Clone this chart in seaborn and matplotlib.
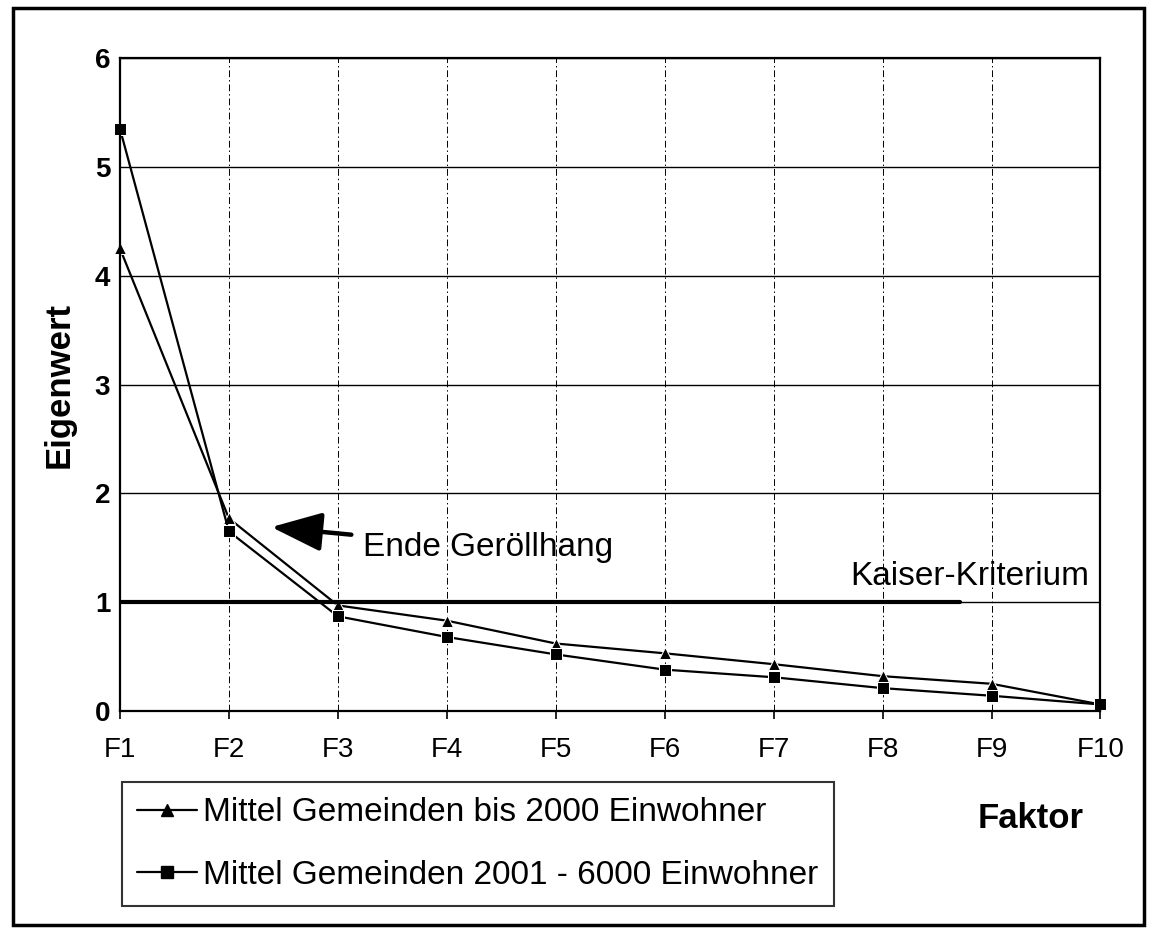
import pandas as pd
import seaborn as sns
import matplotlib.pyplot as plt
from matplotlib.patches import Rectangle
from matplotlib.lines import Line2D

# --- DATA ---
faktoren = ['F1', 'F2', 'F3', 'F4', 'F5', 'F6', 'F7', 'F8', 'F9', 'F10']
bis_2000 = [4.25, 1.77, 0.97, 0.83, 0.62, 0.53, 0.43, 0.32, 0.25, 0.06]
bis_6000 = [5.35, 1.65, 0.87, 0.68, 0.52, 0.38, 0.31, 0.21, 0.14, 0.06]
serien = ['Mittel Gemeinden bis 2000 Einwohner', 'Mittel Gemeinden 2001 - 6000 Einwohner']
kaiser = 1.0
# ------------

sns.set_style('white', {'text.color': 'black', 'axes.labelcolor': 'black',
                        'xtick.color': 'black', 'ytick.color': 'black'})
plt.rcParams['font.family'] = ['Liberation Sans', 'DejaVu Sans']

df = pd.DataFrame({
    'Faktor': faktoren * 2,
    'Eigenwert': bis_2000 + bis_6000,
    'Serie': [serien[0]] * len(faktoren) + [serien[1]] * len(faktoren),
})

fig = plt.figure(figsize=(11.59, 9.36), dpi=100)
ax = fig.add_axes([0.1035, 0.2404, 0.846, 0.6976])

sns.lineplot(data=df, x='Faktor', y='Eigenwert', hue='Serie', style='Serie',
             markers=['^', 's'], dashes=False, palette=['black', 'black'],
             markersize=9, linewidth=1.6, ax=ax, legend=False, sort=False)
for ln in ax.lines:
    ln.set_clip_on(False)

ax.set_ylim(0, 6)
ax.set_xlim(0, len(faktoren) - 1)
ax.set_yticks(range(0, 7))
ax.grid(axis='y', color='black', linewidth=1)
ax.grid(axis='x', color='black', linewidth=0.7, linestyle=(0, (7, 3, 1.5, 3)))
for s in ax.spines.values():
    s.set_linewidth(1.6)
    s.set_color('black')
ax.tick_params(axis='x', labelsize=20, length=6, width=1.2, pad=13, direction='out', bottom=True)
ax.tick_params(axis='y', labelsize=20, length=0, pad=7)
for lbl in ax.get_yticklabels():
    lbl.set_fontweight('bold')

ax.set_xlabel('')
ax.set_ylabel('Eigenwert', fontsize=25, fontweight='bold', labelpad=14)

# Kaiser-Kriterium
ax.plot([0, 7.71], [kaiser, kaiser], color='black', linewidth=3)
ax.text(8.9, kaiser + 0.09, 'Kaiser-Kriterium', fontsize=24, ha='right', va='bottom')

# Ende Geröllhang
ax.annotate('Ende Geröllhang', xy=(1.39, 1.69), xytext=(2.23, 1.50),
            fontsize=24, va='center',
            arrowprops=dict(arrowstyle='-|>,head_length=1.3,head_width=0.5',
                            color='black', lw=3.2, shrinkB=0, shrinkA=6))

fig.text(0.935, 0.126, 'Faktor', fontsize=25, fontweight='bold', ha='right', va='center')

# legend
handles = [Line2D([], [], color='black', marker='^', markersize=8, linewidth=1.6),
           Line2D([], [], color='black', marker='s', markersize=8, linewidth=1.6)]
leg = fig.legend(handles, serien, loc='upper left', bbox_to_anchor=(0.105, 0.164),
                 fontsize=24, frameon=True, fancybox=False, edgecolor='black',
                 handlelength=1.8, handletextpad=0.2, borderpad=0.45, labelspacing=0.95,
                 borderaxespad=0)
leg.get_frame().set_linewidth(1.5)

# outer frame
fig.patches.append(Rectangle((0.011, 0.012), 0.976, 0.979, transform=fig.transFigure,
                             fill=False, edgecolor='black', linewidth=2.5))

plt.savefig('out.png', dpi=100)
